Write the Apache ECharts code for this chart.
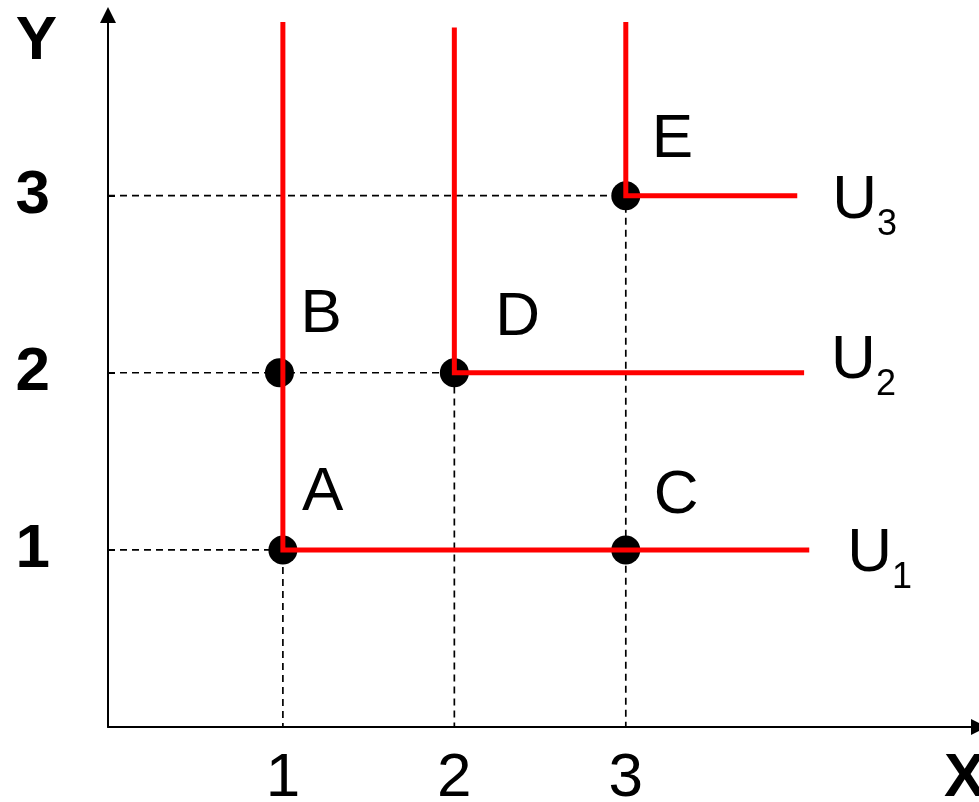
<!DOCTYPE html>
<html>
<head>
<meta charset="utf-8">
<script src="https://cdn.jsdelivr.net/npm/echarts@6/dist/echarts.min.js"></script>
<style>
  html, body { margin: 0; padding: 0; background: #fff; }
  #chart { width: 979px; height: 802px; }
</style>
</head>
<body>
<div id="chart"></div>
<script>
// bundles (points) on the indifference map
const pointNames = ['A', 'B', 'C', 'D', 'E'];
const pointX = [1, 0.98, 3, 2, 3];
const pointY = [1, 2, 1, 2, 3];

// L-shaped indifference curves: corner, top of the vertical arm, end of the horizontal arm
const curveNames = ['U1', 'U2', 'U3'];
const curveSubs = ['1', '2', '3'];
const curveCornerX = [1, 2, 3];
const curveCornerY = [1, 2, 3];
const curveTopY = [3.98, 3.95, 3.98];
const curveEndX = [4.07, 4.04, 4.0];

// dashed guides from the axes to the corners
const guideLevels = [1, 2, 3];

const tickValues = [1, 2, 3];

const X_MIN = -0.02;
const X_MAX = 5.06;
const Y_MAX = 4.02;

const FONT = '"Liberation Sans", Arial, sans-serif';

// label placement, kept apart from the data
const pointLabelOffset = {
  A: [19, -57],
  B: [21, -58],
  C: [28, -54],
  D: [41, -55],
  E: [26, -56]
};
const curveLabelOffset = {
  U1: [38, 10],
  U2: [27, -6],
  U3: [35, 11]
};

const chart = echarts.init(document.getElementById('chart'));

const guideSeries = guideLevels.map((v) => ({
  type: 'line',
  silent: true,
  symbol: 'none',
  z: 1,
  lineStyle: { color: '#000', width: 1.7, type: [7, 5] },
  data: [[X_MIN, v], [v, v], [v, 0]]
}));

const pointSeries = {
  type: 'scatter',
  z: 3,
  symbolSize: 29,
  itemStyle: { color: '#000', opacity: 1 },
  data: pointNames.map((name, i) => ({
    name,
    value: [pointX[i], pointY[i]],
    label: {
      show: true,
      position: 'inside',
      align: 'left',
      verticalAlign: 'middle',
      offset: pointLabelOffset[name],
      formatter: '{b}',
      color: '#000',
      fontSize: 62,
      fontFamily: FONT
    }
  }))
};

const curveSeries = curveNames.map((name, i) => ({
  type: 'line',
  name,
  z: 4,
  symbol: 'none',
  lineStyle: { color: '#ff0000', width: 5, cap: 'butt', join: 'miter' },
  data: [
    [curveCornerX[i], curveTopY[i]],
    [curveCornerX[i], curveCornerY[i]],
    [curveEndX[i], curveCornerY[i]]
  ],
  endLabel: {
    show: true,
    distance: 0,
    offset: curveLabelOffset[name],
    formatter: () => `{u|U}{s|${curveSubs[i]}}`,
    rich: {
      u: { fontSize: 62, verticalAlign: 'top', color: '#000', fontFamily: FONT },
      s: { fontSize: 36, lineHeight: 73, verticalAlign: 'bottom', color: '#000', fontFamily: FONT }
    }
  }
}));

chart.setOption({
  animation: false,
  grid: {
    left: 108,
    right: 0,
    top: 15,
    bottom: 75,
    containLabel: false,
    outerBoundsMode: 'none'
  },
  xAxis: {
    type: 'value',
    min: X_MIN,
    max: X_MAX,
    name: 'X',
    nameLocation: 'end',
    nameGap: -35,
    nameMoveOverlap: false,
    nameTextStyle: {
      fontSize: 62,
      fontWeight: 'bold',
      color: '#000',
      fontFamily: FONT,
      align: 'left',
      verticalAlign: 'top',
      padding: [21, 0, 0, 0]
    },
    axisLine: {
      show: true,
      onZero: false,
      symbol: ['none', 'triangle'],
      symbolSize: [16, 16],
      lineStyle: { color: '#000', width: 2 }
    },
    axisTick: { show: false },
    splitLine: { show: false },
    axisLabel: {
      customValues: tickValues,
      margin: 21,
      fontSize: 62,
      color: '#000',
      fontFamily: FONT,
      showMinLabel: true,
      showMaxLabel: true
    }
  },
  yAxis: {
    type: 'value',
    min: 0,
    max: Y_MAX,
    name: 'Y',
    nameLocation: 'end',
    nameGap: 4,
    nameMoveOverlap: false,
    nameTextStyle: {
      fontSize: 62,
      fontWeight: 'bold',
      color: '#000',
      fontFamily: FONT,
      align: 'right',
      verticalAlign: 'top',
      padding: [0, 51, 0, 0]
    },
    axisLine: {
      show: true,
      onZero: false,
      symbol: ['none', 'triangle'],
      symbolSize: [16, 16],
      lineStyle: { color: '#000', width: 2 }
    },
    axisTick: {
      show: true,
      inside: true,
      length: 7,
      customValues: tickValues,
      lineStyle: { color: '#000', width: 2 }
    },
    splitLine: { show: false },
    axisLabel: {
      customValues: tickValues,
      margin: 58,
      fontSize: 62,
      fontWeight: 'bold',
      color: '#000',
      fontFamily: FONT
    }
  },
  series: [...guideSeries, pointSeries, ...curveSeries]
});
</script>
</body>
</html>
